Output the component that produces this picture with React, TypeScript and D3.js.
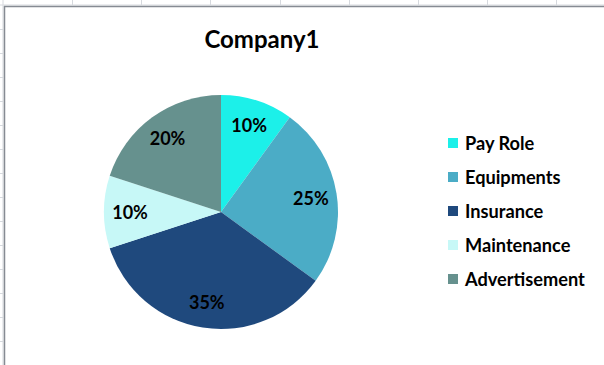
import React from "react";
import * as d3 from "d3";

const categories = ["Pay Role", "Equipments", "Insurance", "Maintenance", "Advertisement"];
const values = [10, 25, 35, 10, 20];
const colors = ["#1CF0E9", "#4BACC6", "#1F497D", "#C7F8F7", "#66918E"];
const title = "Company1";

const W = 604;
const H = 365;
const cx = 221;
const cy = 212;
const R = 117;
const labelR = 91;
const FONT = "Lato, 'Open Sans', sans-serif";

export default function App() {
  const pie = d3.pie<number>().sort(null).value((d) => d);
  const arcs = pie(values);
  const arc = d3.arc<d3.PieArcDatum<number>>().innerRadius(0).outerRadius(R);
  const labelArc = d3.arc<d3.PieArcDatum<number>>().innerRadius(labelR).outerRadius(labelR);
  const total = d3.sum(values);

  const gridX = d3.range(72, W, 69.2);
  const gridY = d3.range(29, H, 24);

  return (
    <svg
      width={W}
      height={H}
      style={{ position: "fixed", left: 0, top: 0, background: "#fff" }}
      fontFamily={FONT}
    >
      {/* spreadsheet gridlines outside chart */}
      <line x1={0} x2={W} y1={5} y2={5} stroke="#d6d9de" strokeWidth={1} />
      {gridX.map((x, i) => (
        <line key={"gx" + i} x1={Math.round(x) + 0.5} x2={Math.round(x) + 0.5} y1={0} y2={5} stroke="#d6d9de" />
      ))}
      <line x1={3} x2={3} y1={0} y2={H} stroke="#d6d9de" strokeWidth={1} />
      {gridY.map((y, i) => (
        <line key={"gy" + i} x1={0} x2={3} y1={y + 0.5} y2={y + 0.5} stroke="#d6d9de" />
      ))}
      {/* chart border */}
      <line x1={4} x2={W} y1={6.5} y2={6.5} stroke="#868b93" strokeWidth={1.5} />
      <line x1={4.5} x2={4.5} y1={6} y2={H} stroke="#868b93" strokeWidth={1.5} />

      <text x={262} y={48} textAnchor="middle" fontSize={24} fontWeight="bold" fill="#000">
        {title}
      </text>

      <g transform={`translate(${cx},${cy})`}>
        {arcs.map((a, i) => (
          <path key={i} d={arc(a) || ""} fill={colors[i]} />
        ))}
        {arcs.map((a, i) => {
          const [lx, ly] = labelArc.centroid(a);
          return (
            <text
              key={"l" + i}
              x={lx}
              y={ly}
              textAnchor="middle"
              dominantBaseline="central"
              fontSize={18}
              fontWeight="bold"
              fill="#000"
            >
              {`${Math.round((values[i] / total) * 100)}%`}
            </text>
          );
        })}
      </g>

      <g>
        {categories.map((c, i) => {
          const y = 143 + i * 34;
          return (
            <g key={c}>
              <rect x={448} y={y - 5} width={10} height={10} fill={colors[i]} />
              <text x={465} y={y} dominantBaseline="central" fontSize={18.2} fontWeight="bold" fill="#000">
                {c}
              </text>
            </g>
          );
        })}
      </g>
    </svg>
  );
}
